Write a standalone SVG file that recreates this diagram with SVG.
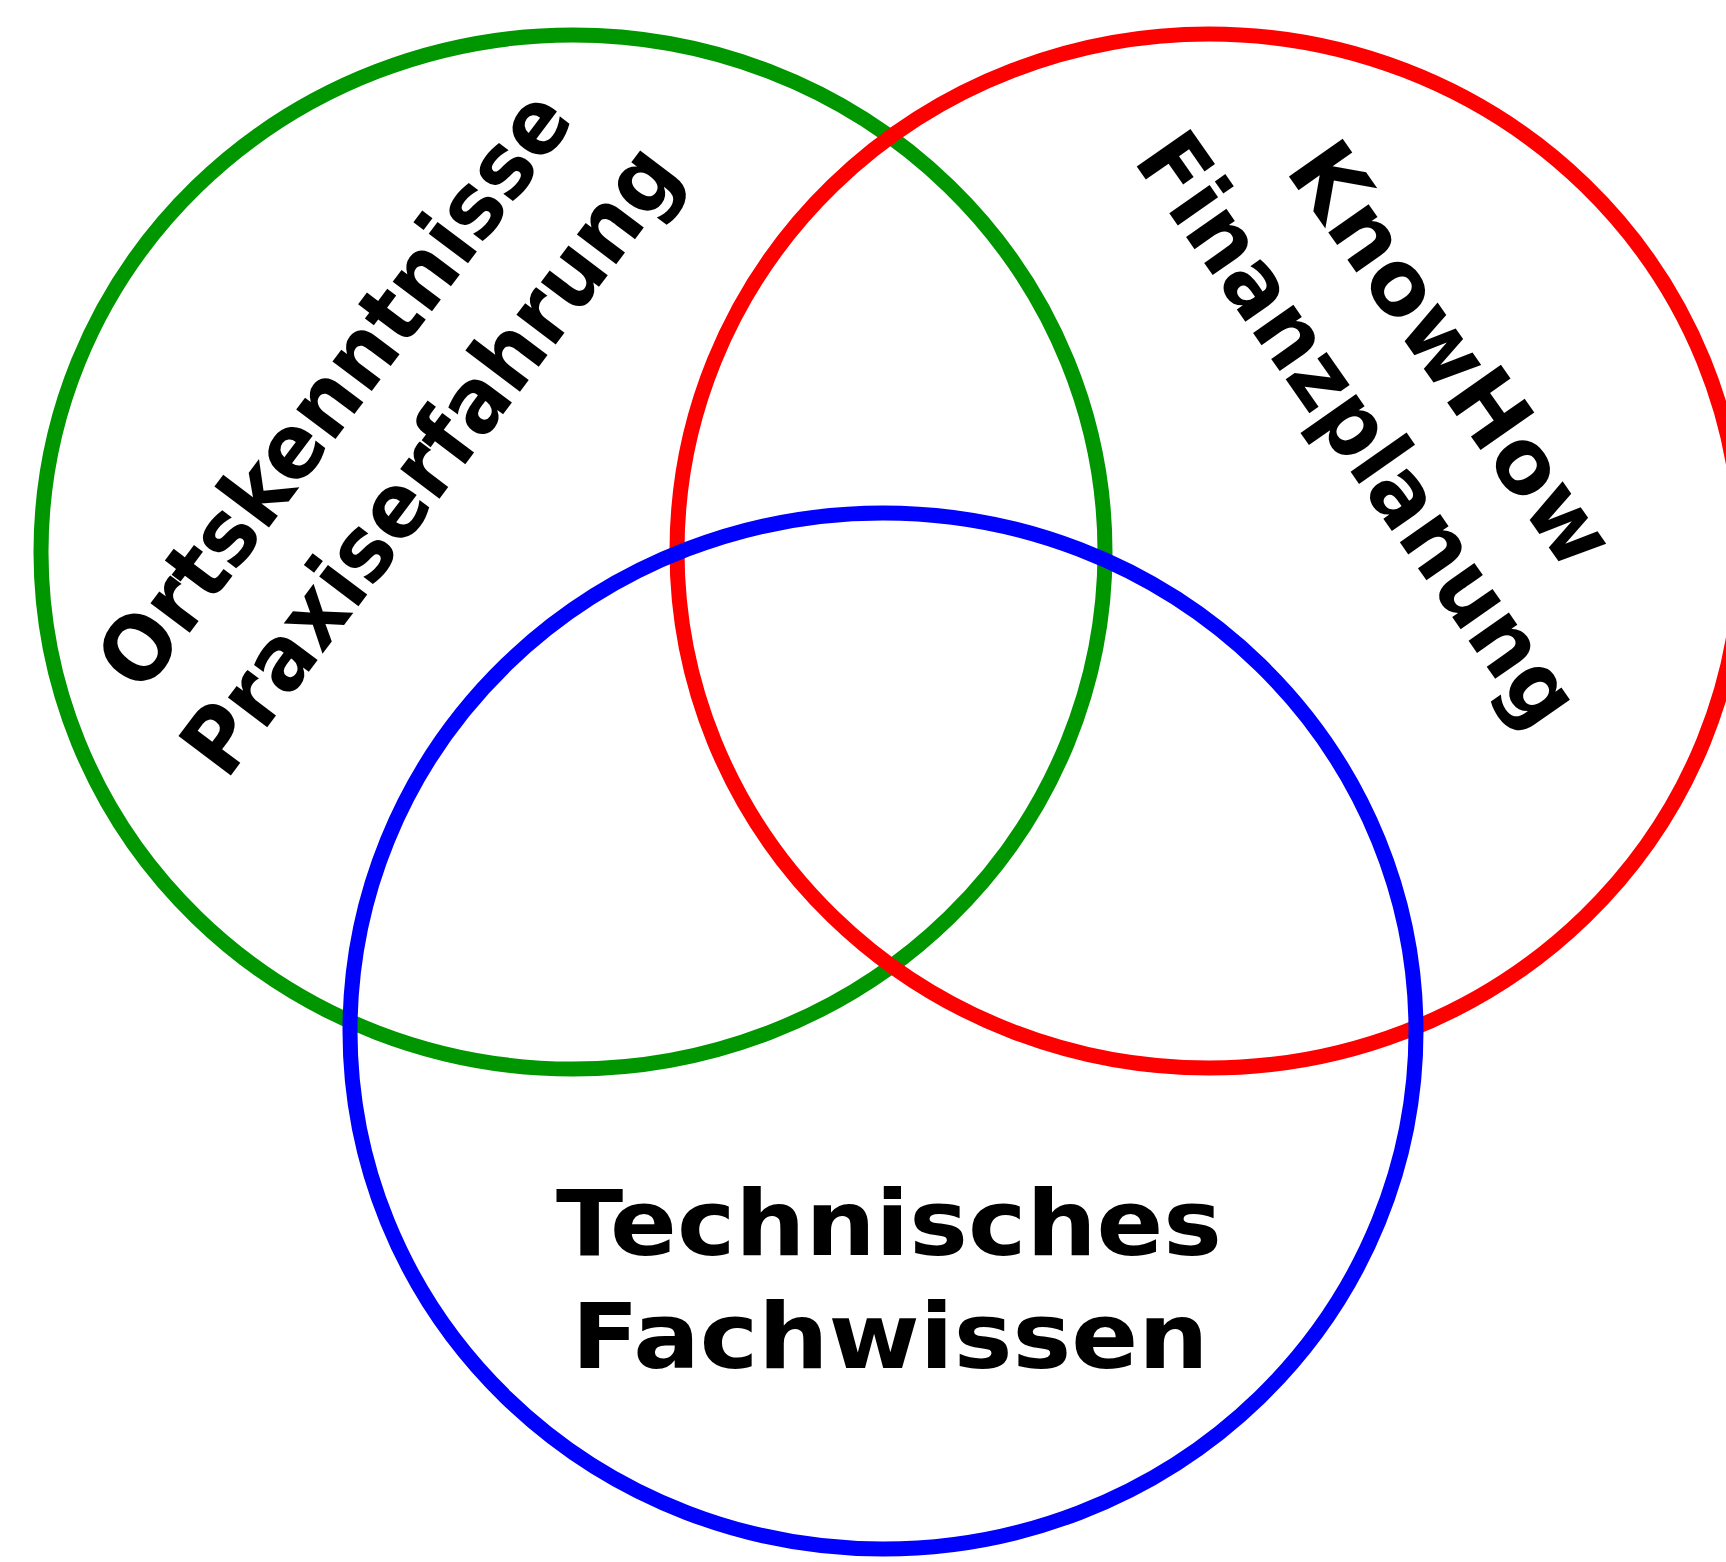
<svg xmlns="http://www.w3.org/2000/svg" width="1726" height="1562" viewBox="0 0 1726 1562">
<style>
.ring{fill:none;stroke-width:15}
.lbl{font-family:"DejaVu Sans","Liberation Sans",sans-serif;font-weight:bold;font-size:90px;fill:#000;text-anchor:middle}
</style>
<rect width="1726" height="1562" fill="#fff"/>
<g id="green">
<ellipse class="ring" cx="573" cy="552" rx="532" ry="517" stroke="#009600"/>
<g transform="rotate(-53 359 408)"><text class="lbl" x="359" y="408" textLength="720" lengthAdjust="spacingAndGlyphs">Ortskenntnisse</text></g>
<g transform="rotate(-53 455 478)"><text class="lbl" x="455" y="478" textLength="760" lengthAdjust="spacingAndGlyphs">Praxiserfahrung</text></g>
</g>
<g id="red">
<ellipse class="ring" cx="1209" cy="551" rx="532" ry="517" stroke="#ff0000"/>
<g transform="rotate(55 1426 372)"><text class="lbl" x="1426" y="372" textLength="494" lengthAdjust="spacingAndGlyphs">KnowHow</text></g>
<g transform="rotate(55 1333 447)"><text class="lbl" x="1333" y="447" textLength="700" lengthAdjust="spacingAndGlyphs">Finanzplanung</text></g>
</g>
<g id="blue">
<ellipse class="ring" cx="883" cy="1031" rx="533" ry="518" stroke="#0000ff"/>
<text class="lbl" x="889" y="1255" textLength="666" lengthAdjust="spacingAndGlyphs">Technisches</text>
<text class="lbl" x="890" y="1368" textLength="637" lengthAdjust="spacingAndGlyphs">Fachwissen</text>
</g>
<g id="connectors"/>
</svg>
